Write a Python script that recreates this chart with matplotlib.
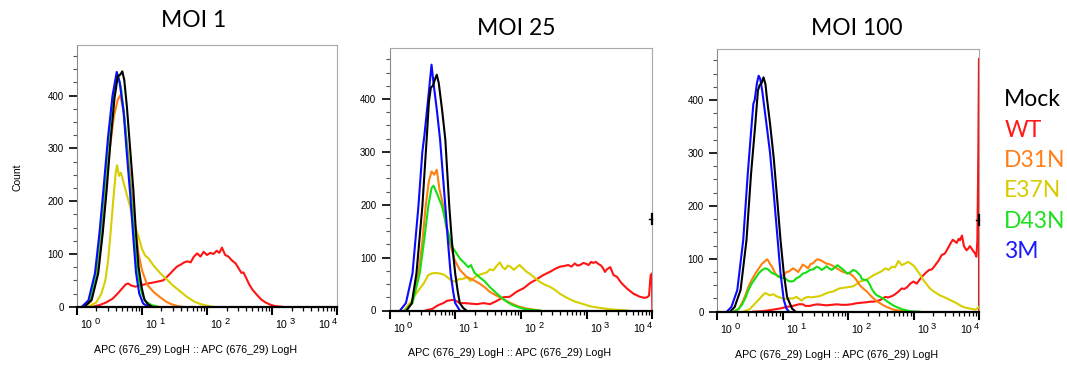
import numpy as np
import matplotlib
matplotlib.use("Agg")
import matplotlib.pyplot as plt
from matplotlib.ticker import FixedLocator, LogLocator, NullFormatter, MultipleLocator

plt.rcParams["font.family"] = ["Liberation Sans", "DejaVu Sans"]

# ---------------------------------------------------------------------------
# Histogram traces: APC intensity given as log10 position, counts per bin
# ---------------------------------------------------------------------------
SAMPLES = ["Mock", "WT", "D31N", "E37N", "D43N", "3M"]
PANEL_TITLES = ["MOI 1", "MOI 25", "MOI 100"]
DECADE_EXPONENTS = [0, 1, 2, 3, 4]
COUNT_TICKS = [0, 100, 200, 300, 400]
AXIS_LABEL = "APC (676_29) LogH :: APC (676_29) LogH"

# ----- MOI 1 -----
moi1_mock_log = [0.12, 0.23, 0.33, 0.40, 0.46, 0.52, 0.58, 0.63, 0.67, 0.70, 0.73, 0.77, 0.82, 0.87, 0.91, 0.95, 1.00, 1.04, 1.10, 1.16]
moi1_mock_cnt = [0, 13, 63, 140, 221, 315, 395, 436, 440, 446, 430, 380, 300, 221, 140, 75, 35, 13, 4, 0]
moi1_wt_log = [0.25, 0.35, 0.45, 0.55, 0.63, 0.70, 0.75, 0.79, 0.84, 0.90, 0.97, 1.03, 1.10, 1.18, 1.26, 1.33, 1.38, 1.43, 1.49, 1.54, 1.60, 1.65, 1.70, 1.75, 1.80, 1.85, 1.90, 1.95, 2.00, 2.05, 2.10, 2.15, 2.19, 2.23, 2.28, 2.33, 2.38, 2.44, 2.49, 2.53, 2.56, 2.60, 2.65, 2.70, 2.77, 2.83, 2.90, 2.97, 3.05, 3.15]
moi1_wt_cnt = [0, 3, 8, 15, 25, 35, 42, 44, 40, 38, 40, 42, 44, 46, 48, 50, 56, 62, 70, 76, 80, 84, 86, 84, 95, 101, 95, 104, 98, 102, 100, 106, 102, 112, 98, 95, 88, 82, 72, 64, 65, 55, 42, 32, 22, 14, 8, 4, 1, 0]
moi1_d31n_log = [0.12, 0.22, 0.30, 0.37, 0.43, 0.50, 0.57, 0.63, 0.67, 0.72, 0.78, 0.84, 0.90, 0.95, 1.00, 1.08, 1.18, 1.28, 1.38, 1.45, 1.55, 1.62]
moi1_d31n_cnt = [0, 10, 55, 125, 205, 290, 360, 392, 401, 370, 300, 221, 150, 100, 70, 42, 28, 18, 9, 5, 1, 0]
moi1_e37n_log = [0.18, 0.30, 0.38, 0.44, 0.48, 0.52, 0.56, 0.60, 0.62, 0.65, 0.68, 0.72, 0.77, 0.82, 0.86, 0.90, 0.95, 1.00, 1.05, 1.10, 1.18, 1.28, 1.38, 1.48, 1.59, 1.70, 1.80, 1.90, 2.00, 2.08]
moi1_e37n_cnt = [0, 8, 25, 50, 85, 140, 200, 255, 268, 248, 254, 235, 212, 190, 165, 150, 133, 110, 97, 92, 78, 64, 52, 40, 29, 18, 10, 5, 2, 0]
moi1_d43n_log = [0.10, 0.20, 0.29, 0.36, 0.42, 0.49, 0.56, 0.63, 0.68, 0.74, 0.79, 0.84, 0.89, 0.94, 1.00, 1.06, 1.15, 1.25]
moi1_d43n_cnt = [0, 10, 60, 135, 215, 320, 400, 440, 415, 350, 275, 200, 120, 60, 25, 10, 3, 0]
moi1_3m_log = [0.08, 0.18, 0.28, 0.35, 0.41, 0.48, 0.55, 0.615, 0.66, 0.72, 0.77, 0.82, 0.87, 0.91, 0.96, 1.02, 1.10]
moi1_3m_cnt = [0, 12, 63, 140, 221, 320, 400, 445, 425, 370, 290, 215, 130, 65, 25, 6, 0]

# ----- MOI 25 -----
moi25_mock_log = [0.26, 0.34, 0.41, 0.50, 0.565, 0.60, 0.63, 0.66, 0.70, 0.72, 0.75, 0.80, 0.85, 0.88, 0.91, 0.95, 1.00, 1.04, 1.07, 1.12, 1.17]
moi25_mock_cnt = [0, 14, 70, 197, 323, 395, 422, 425, 440, 446, 430, 380, 323, 260, 197, 130, 70, 35, 14, 5, 0]
moi25_wt_log = [0.55, 0.65, 0.74, 0.82, 0.87, 0.95, 1.00, 1.07, 1.15, 1.23, 1.33, 1.43, 1.53, 1.63, 1.73, 1.83, 1.94, 2.04, 2.14, 2.24, 2.34, 2.44, 2.54, 2.60, 2.65, 2.72, 2.77, 2.82, 2.86, 2.90, 2.95, 3.00, 3.03, 3.07, 3.10, 3.14, 3.18, 3.22, 3.25, 3.28, 3.31, 3.36, 3.41, 3.46, 3.53, 3.61, 3.71, 3.81, 3.88, 3.92, 3.95, 3.975, 3.995, 4.0]
moi25_wt_cnt = [0, 3, 10, 14, 18, 20, 19, 14, 14, 13, 12, 14, 12, 18, 25, 26, 36, 42, 52, 59, 67, 73, 80, 83, 84, 86, 83, 89, 85, 86, 90, 88, 86, 92, 90, 92, 88, 85, 80, 73, 78, 82, 67, 64, 52, 42, 32, 26, 24, 25, 28, 67, 70, 0]
moi25_d31n_log = [0.24, 0.34, 0.44, 0.50, 0.55, 0.60, 0.64, 0.68, 0.72, 0.76, 0.82, 0.86, 0.92, 0.99, 1.07, 1.17, 1.27, 1.37, 1.45, 1.52, 1.60, 1.68, 1.78, 1.88, 1.98, 2.08, 2.18, 2.28]
moi25_d31n_cnt = [0, 14, 70, 130, 197, 245, 263, 257, 266, 230, 197, 160, 127, 96, 77, 64, 58, 51, 44, 36, 30, 25, 18, 12, 7, 4, 2, 0]
moi25_e37n_log = [0.22, 0.31, 0.41, 0.52, 0.59, 0.64, 0.70, 0.77, 0.84, 0.90, 0.95, 1.00, 1.05, 1.12, 1.18, 1.23, 1.28, 1.33, 1.38, 1.43, 1.48, 1.53, 1.58, 1.63, 1.68, 1.72, 1.76, 1.80, 1.84, 1.89, 1.94, 1.98, 2.03, 2.08, 2.14, 2.19, 2.24, 2.29, 2.36, 2.44, 2.52, 2.59, 2.67, 2.75, 2.82, 2.90, 2.98, 3.05, 3.15, 3.26, 3.38, 3.51, 3.62]
moi25_e37n_cnt = [0, 14, 33, 51, 67, 70, 71, 70, 67, 61, 56, 55, 59, 60, 63, 56, 61, 66, 68, 70, 72, 78, 76, 84, 91, 82, 78, 85, 83, 77, 82, 86, 80, 74, 69, 64, 59, 54, 49, 45, 39, 32, 26, 21, 17, 14, 11, 8, 6, 4, 2, 1, 0]
moi25_d43n_log = [0.24, 0.35, 0.46, 0.53, 0.59, 0.64, 0.67, 0.70, 0.74, 0.80, 0.87, 0.92, 0.95, 1.02, 1.08, 1.14, 1.20, 1.24, 1.29, 1.36, 1.45, 1.53, 1.60, 1.66, 1.72, 1.78, 1.86, 1.94, 2.02, 2.09, 2.29]
moi25_d43n_cnt = [0, 14, 70, 135, 197, 232, 236, 228, 216, 197, 159, 134, 121, 108, 97, 90, 82, 86, 72, 64, 55, 44, 36, 29, 23, 17, 11, 7, 4, 2, 0]
moi25_3m_log = [0.16, 0.25, 0.35, 0.44, 0.50, 0.53, 0.58, 0.62, 0.64, 0.67, 0.72, 0.77, 0.81, 0.85, 0.89, 0.93, 0.97, 1.00, 1.07]
moi25_3m_cnt = [0, 14, 70, 197, 300, 330, 390, 440, 465, 430, 380, 323, 260, 197, 130, 70, 35, 14, 0]

# ----- MOI 100 -----
moi100_mock_log = [0.20, 0.27, 0.36, 0.45, 0.52, 0.585, 0.625, 0.65, 0.68, 0.71, 0.74, 0.76, 0.81, 0.865, 0.92, 0.97, 1.02, 1.07, 1.145, 1.20]
moi100_mock_cnt = [0, 9, 41, 135, 261, 355, 418, 428, 432, 443, 430, 406, 355, 292, 211, 135, 72, 28, 6, 0]
moi100_wt_log = [0.55, 0.70, 0.86, 0.96, 1.06, 1.16, 1.25, 1.31, 1.35, 1.42, 1.48, 1.54, 1.60, 1.67, 1.75, 1.83, 1.90, 1.98, 2.05, 2.13, 2.21, 2.29, 2.34, 2.39, 2.44, 2.49, 2.53, 2.57, 2.61, 2.64, 2.68, 2.72, 2.77, 2.82, 2.86, 2.90, 2.95, 3.00, 3.05, 3.09, 3.12, 3.16, 3.20, 3.24, 3.28, 3.32, 3.35, 3.39, 3.43, 3.48, 3.53, 3.57, 3.60, 3.63, 3.66, 3.69, 3.71, 3.74, 3.77, 3.81, 3.84, 3.86, 3.89, 3.91, 3.94, 3.96, 3.975, 3.99, 4.0, 4.0]
moi100_wt_cnt = [0, 1, 4, 6, 9, 11, 14, 14, 11, 11, 13, 14, 13, 12, 13, 14, 13, 13, 14, 16, 17, 18, 19, 19, 20, 22, 25, 28, 27, 28, 30, 33, 38, 44, 43, 46, 53, 57, 53, 60, 65, 70, 75, 79, 80, 86, 91, 98, 107, 110, 121, 130, 136, 133, 130, 138, 135, 144, 124, 116, 120, 124, 119, 115, 110, 104, 135, 300, 478, 0]
moi100_d31n_log = [0.25, 0.33, 0.38, 0.43, 0.48, 0.53, 0.585, 0.64, 0.69, 0.73, 0.76, 0.78, 0.81, 0.84, 0.89, 0.94, 0.98, 1.02, 1.06, 1.10, 1.16, 1.20, 1.24, 1.28, 1.31, 1.35, 1.39, 1.43, 1.47, 1.50, 1.53, 1.57, 1.60, 1.64, 1.67, 1.71, 1.75, 1.79, 1.83, 1.88, 1.93, 1.98, 2.03, 2.07, 2.11, 2.15, 2.18, 2.23, 2.29, 2.34, 2.39, 2.44, 2.49, 2.54, 2.59, 2.69, 2.79, 2.89]
moi100_d31n_cnt = [0, 5, 16, 30, 47, 60, 72, 82, 91, 95, 99, 97, 90, 85, 72, 66, 68, 69, 75, 76, 82, 79, 75, 83, 89, 86, 82, 90, 92, 96, 99, 98, 96, 93, 91, 90, 88, 85, 82, 78, 75, 73, 72, 68, 63, 56, 50, 44, 38, 31, 25, 20, 16, 12, 9, 4, 2, 0]
moi100_e37n_log = [0.40, 0.50, 0.585, 0.64, 0.69, 0.73, 0.76, 0.80, 0.86, 0.91, 0.96, 1.01, 1.06, 1.11, 1.16, 1.21, 1.26, 1.29, 1.34, 1.39, 1.44, 1.49, 1.55, 1.60, 1.67, 1.72, 1.77, 1.82, 1.87, 1.92, 1.98, 2.03, 2.08, 2.13, 2.18, 2.24, 2.29, 2.34, 2.39, 2.44, 2.49, 2.53, 2.57, 2.62, 2.67, 2.72, 2.77, 2.82, 2.87, 2.92, 2.97, 3.01, 3.05, 3.10, 3.15, 3.20, 3.25, 3.30, 3.35, 3.40, 3.46, 3.51, 3.56, 3.61, 3.66, 3.71, 3.76, 3.81, 3.86, 3.90, 3.94, 3.97, 4.0]
moi100_e37n_cnt = [0, 5, 16, 23, 30, 35, 34, 31, 33, 29, 27, 25, 24, 25, 25, 28, 24, 21, 26, 28, 27, 28, 29, 31, 35, 37, 38, 41, 44, 45, 46, 47, 48, 52, 57, 59, 61, 65, 69, 72, 75, 78, 82, 79, 85, 84, 96, 88, 91, 94, 90, 86, 79, 70, 60, 52, 44, 39, 35, 31, 28, 25, 22, 19, 16, 12, 9, 7, 6, 5, 4, 6, 9]
moi100_d43n_log = [0.25, 0.33, 0.38, 0.43, 0.48, 0.53, 0.585, 0.64, 0.69, 0.74, 0.78, 0.82, 0.86, 0.90, 0.94, 0.99, 1.04, 1.09, 1.13, 1.17, 1.21, 1.26, 1.31, 1.36, 1.42, 1.47, 1.52, 1.56, 1.60, 1.64, 1.67, 1.71, 1.75, 1.80, 1.84, 1.88, 1.93, 1.99, 2.04, 2.08, 2.12, 2.16, 2.19, 2.21, 2.25, 2.29, 2.33, 2.36, 2.40, 2.44, 2.49, 2.54, 2.59, 2.64, 2.69, 2.74, 2.84, 2.95, 3.10]
moi100_d43n_cnt = [0, 5, 13, 25, 41, 53, 63, 73, 79, 82, 80, 75, 72, 70, 66, 64, 63, 58, 57, 58, 63, 66, 72, 74, 79, 80, 85, 83, 79, 82, 86, 82, 79, 84, 88, 84, 79, 72, 75, 79, 77, 72, 68, 62, 60, 60, 52, 44, 36, 31, 28, 25, 20, 16, 12, 9, 4, 1, 0]
moi100_3m_log = [0.15, 0.22, 0.31, 0.40, 0.47, 0.52, 0.555, 0.575, 0.61, 0.636, 0.66, 0.69, 0.76, 0.81, 0.865, 0.92, 0.97, 1.02, 1.06, 1.10]
moi100_3m_cnt = [0, 9, 41, 135, 261, 340, 393, 400, 432, 446, 440, 418, 350, 300, 225, 145, 72, 22, 6, 0]

PANEL_DATA = [
    {"WT": (moi1_wt_log, moi1_wt_cnt), "E37N": (moi1_e37n_log, moi1_e37n_cnt),
     "D31N": (moi1_d31n_log, moi1_d31n_cnt), "D43N": (moi1_d43n_log, moi1_d43n_cnt),
     "3M": (moi1_3m_log, moi1_3m_cnt), "Mock": (moi1_mock_log, moi1_mock_cnt)},
    {"WT": (moi25_wt_log, moi25_wt_cnt), "E37N": (moi25_e37n_log, moi25_e37n_cnt),
     "D31N": (moi25_d31n_log, moi25_d31n_cnt), "D43N": (moi25_d43n_log, moi25_d43n_cnt),
     "3M": (moi25_3m_log, moi25_3m_cnt), "Mock": (moi25_mock_log, moi25_mock_cnt)},
    {"WT": (moi100_wt_log, moi100_wt_cnt), "E37N": (moi100_e37n_log, moi100_e37n_cnt),
     "D31N": (moi100_d31n_log, moi100_d31n_cnt), "D43N": (moi100_d43n_log, moi100_d43n_cnt),
     "3M": (moi100_3m_log, moi100_3m_cnt), "Mock": (moi100_mock_log, moi100_mock_cnt)},
]

LINE_COLORS = {"Mock": "#000000", "WT": "#ff1414", "D31N": "#ff7f10",
               "E37N": "#d6cf00", "D43N": "#14e014", "3M": "#0a0aff"}
TEXT_COLORS = {"Mock": "#000000", "WT": "#ff1a1a", "D31N": "#ff7f1a",
               "E37N": "#d8cc00", "D43N": "#1ee01e", "3M": "#1a1aff"}
DRAW_ORDER = ["WT", "E37N", "D31N", "D43N", "3M", "Mock"]

# ---------------------------------------------------------------------------
W, H = 1067, 365
fig = plt.figure(figsize=(W / 100, H / 100), dpi=100)


def px_rect(left, zero_y, width, height):
    """Axes rectangle from pixel geometry (left edge, baseline row, size)."""
    return [left / W, (H - zero_y) / H, width / W, height / H]


def decade_label(ax, k, last):
    """Draw '10' with a spaced, raised exponent under the decade tick."""
    base_kw = dict(xy=(10.0 ** k, 0), xycoords=("data", "axes fraction"),
                   textcoords="offset points", va="baseline")
    if last:
        ax.annotate(str(k), xytext=(-0.3, -12.4), ha="right", fontsize=6.7, **base_kw)
        ax.annotate("10", xytext=(-5.4, -15.6), ha="right", fontsize=7.7, **base_kw)
    else:
        ax.annotate("10", xytext=(2.4, -15.6), ha="left", fontsize=7.7, **base_kw)
        ax.annotate(str(k), xytext=(12.6, -12.4), ha="left", fontsize=6.7, **base_kw)


axes_px = [(76.7, 306.7, 260.5, 261.7),
           (389.5, 310.5, 262.8, 262.2),
           (717.0, 311.7, 262.0, 262.4)]
title_px = [(193.7, 27.3), (516.7, 35.0), (856.3, 35.0)]

for i, (rect, data) in enumerate(zip(axes_px, PANEL_DATA)):
    ax = fig.add_axes(px_rect(*rect))
    for name in DRAW_ORDER:
        lx, cnt = data[name]
        ax.plot(10 ** np.asarray(lx), cnt, color=LINE_COLORS[name], lw=1.5,
                solid_joinstyle="round", zorder=3)

    ax.set_xscale("log")
    ax.set_xlim(1, 1e4)
    ax.set_ylim(0, 496)

    ax.xaxis.set_major_locator(FixedLocator([10.0 ** k for k in DECADE_EXPONENTS]))
    ax.xaxis.set_minor_locator(LogLocator(base=10, subs=np.arange(2, 10), numticks=20))
    ax.xaxis.set_major_formatter(NullFormatter())
    ax.xaxis.set_minor_formatter(NullFormatter())
    ax.tick_params(axis="x", which="major", direction="out", length=6, width=1.5, color="black")
    ax.tick_params(axis="x", which="minor", direction="out", length=3.2, width=0.9, color="black")

    ax.yaxis.set_major_locator(FixedLocator(COUNT_TICKS))
    ax.yaxis.set_minor_locator(MultipleLocator(25))
    ax.tick_params(axis="y", which="major", direction="out", length=5.5, width=1.4,
                   color="#222222", labelsize=7, pad=4)
    ax.tick_params(axis="y", which="minor", direction="out", length=3, width=0.8, color="#555555")

    for side in ("top", "right"):
        ax.spines[side].set_color("#a8a8a8")
        ax.spines[side].set_linewidth(0.8)
    ax.spines["left"].set_color("#8a8a8a")
    ax.spines["left"].set_linewidth(0.8)
    ax.spines["bottom"].set_color("black")
    ax.spines["bottom"].set_linewidth(1.6)
    ax.spines["bottom"].set_zorder(4)

    for k in DECADE_EXPONENTS:
        decade_label(ax, k, k == DECADE_EXPONENTS[-1])

    # gate marker at the upper range limit
    if i > 0:
        ax.plot([1e4, 1e4], [163, 183], color="black", lw=1.6, clip_on=False, zorder=5)
        ax.plot([10 ** 3.95, 1e4], [173, 173], color="black", lw=1.0, clip_on=False, zorder=5)

    cx = (rect[0] + rect[2] / 2 - 11) / W
    fig.text(cx, (H - (rect[1] + 43)) / H, AXIS_LABEL, ha="center", va="center", fontsize=7.7)

    tx, ty = title_px[i]
    fig.text(tx / W, (H - ty) / H, PANEL_TITLES[i], ha="center", va="baseline",
             fontsize=16.5, family=["Lato", "DejaVu Sans"])

fig.text(17.5 / W, (H - 177) / H, "Count", rotation=90, ha="center", va="center", fontsize=7.5)

legend_baselines = [106.0, 136.7, 166.7, 196.7, 228.3, 258.3]
for name, yb in zip(SAMPLES, legend_baselines):
    fig.text(1004.3 / W, (H - yb) / H, name, color=TEXT_COLORS[name], ha="left",
             va="baseline", fontsize=16.5, family=["Lato", "DejaVu Sans"])

fig.savefig("out.png", dpi=100, facecolor="white")
